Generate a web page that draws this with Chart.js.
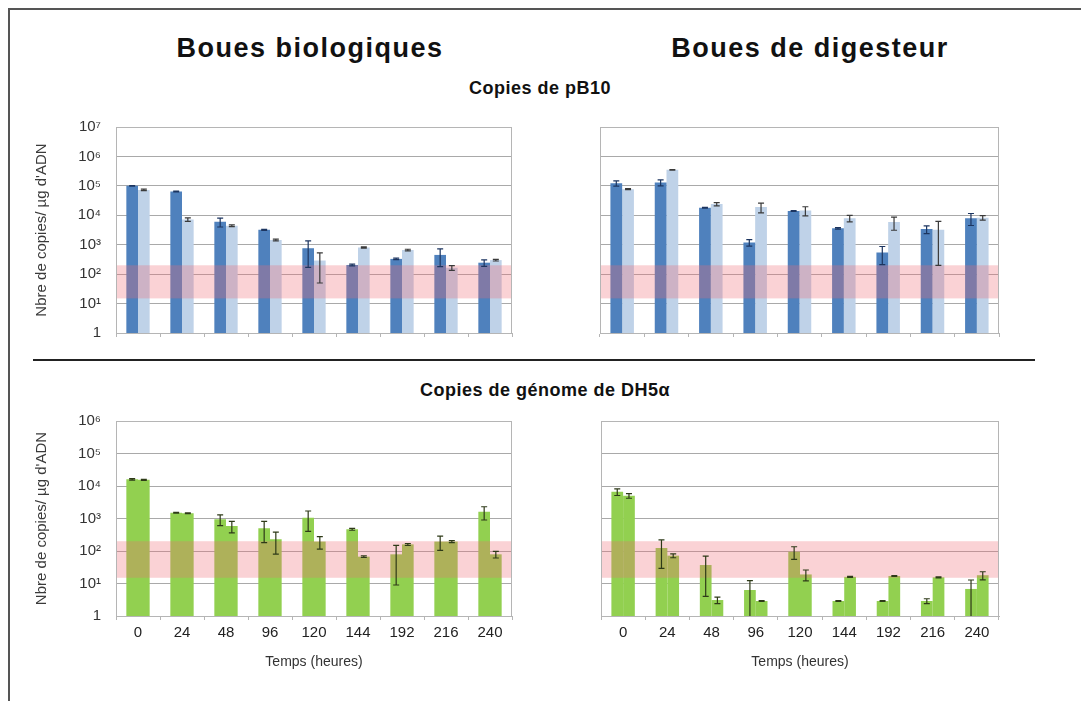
<!DOCTYPE html>
<html>
<head>
<meta charset="utf-8">
<script src="https://cdn.jsdelivr.net/npm/chart.js@4.4.0/dist/chart.umd.min.js"></script>
<style>
  body { margin: 0; background: #fff; width: 1081px; height: 701px; position: relative; overflow: hidden;
         font-family: "Liberation Sans", Arial, sans-serif; }
  .frame { position: absolute; left: 8px; top: 8px; width: 1100px; height: 720px; border: 2px solid #555; }
  .panel { position: absolute; }
  .title { position: absolute; font-weight: bold; color: #111; white-space: nowrap; transform: translate(-50%, -50%); }
  .big { font-size: 27px; letter-spacing: 1.5px; }
  .sub { font-size: 18px; letter-spacing: 0.5px; }
  .divider { position: absolute; left: 33px; top: 359px; width: 1002px; height: 2px; background: #222; }
</style>
</head>
<body>
<div class="frame"></div>
<div class="title big" style="left:310px; top:48px;">Boues biologiques</div>
<div class="title big" style="left:810px; top:48px;">Boues de digesteur</div>
<div class="title sub" style="left:540px; top:88px;">Copies de pB10</div>
<div class="divider"></div>
<div class="title sub" style="left:545px; top:390px;">Copies de génome de DH5α</div>

<canvas id="pb10Bio" class="panel" width="490" height="240" style="left:30px; top:110px;"></canvas>
<canvas id="pb10Dig" class="panel" width="420" height="240" style="left:590px; top:110px;"></canvas>
<canvas id="dh5Bio" class="panel" width="490" height="270" style="left:30px; top:405px;"></canvas>
<canvas id="dh5Dig" class="panel" width="420" height="270" style="left:590px; top:405px;"></canvas>

<script>
const hours = ['0', '24', '48', '96', '120', '144', '192', '216', '240'];

const topTickValues = [1, 10, 100, 1e3, 1e4, 1e5, 1e6, 1e7];
const topTickLabels = ['1', '10¹', '10²', '10³', '10⁴', '10⁵', '10⁶', '10⁷'];
const bottomTickValues = [1, 10, 100, 1e3, 1e4, 1e5, 1e6];
const bottomTickLabels = ['1', '10¹', '10²', '10³', '10⁴', '10⁵', '10⁶'];

// quantification limit band (copies / µg ADN)
const bandRange = [15, 200];

// pB10 copies, boues biologiques
const pb10BioA = [1.0e5, 6.4e4, 6.0e3, 3.2e3, 760, 205, 330, 450, 245];
const pb10BioAErr = [3e3, 2e3, 2e3, 150, 590, 15, 20, 270, 60];
const pb10BioB = [7.3e4, 7.2e3, 4.4e3, 1.45e3, 290, 800, 660, 165, 300];
const pb10BioBErr = [4e3, 1e3, 300, 100, 240, 40, 40, 30, 20];

// pB10 copies, boues de digesteur
const pb10DigA = [1.23e5, 1.3e5, 1.8e4, 1.2e3, 1.4e4, 3.6e3, 540, 3.4e3, 8e3];
const pb10DigAErr = [2.5e4, 3e4, 500, 300, 500, 200, 330, 1e3, 3.5e3];
const pb10DigB = [7.7e4, 3.5e5, 2.4e4, 1.9e4, 1.45e4, 8e3, 5.9e3, 3.2e3, 8.3e3];
const pb10DigBErr = [3e3, 1e4, 3e3, 7e3, 5e3, 2e3, 2.8e3, 3e3, 1.5e3];

// DH5alpha genome copies, boues biologiques
const dh5BioA = [1.6e4, 1.5e3, 950, 500, 1050, 465, 79, 195, 1600];
const dh5BioAErr = [800, 50, 350, 320, 650, 30, 70, 90, 700];
const dh5BioB = [1.55e4, 1.45e3, 590, 230, 195, 67, 160, 195, 79];
const dh5BioBErr = [600, 40, 230, 150, 80, 4, 10, 15, 18];

// DH5alpha genome copies, boues de digesteur
const dh5DigA = [6.6e3, 124, 37, 6.3, 95, 2.9, 2.9, 2.9, 6.8];
const dh5DigAErr = [1.5e3, 95, 33, 6, 40, 0.1, 0.1, 0.5, 6];
const dh5DigB = [5e3, 72, 3.1, 2.9, 19, 16, 17, 15.5, 18];
const dh5DigBErr = [800, 10, 0.7, 0.1, 7, 0.5, 0.5, 0.5, 5];

// band + error bars + plot frame, drawn over the bars
const overlay = {
  id: 'overlay',
  afterDatasetsDraw(chart) {
    const { ctx, chartArea: a, scales: { y } } = chart;
    ctx.save();
    ctx.beginPath();
    ctx.rect(a.left, a.top, a.right - a.left, a.bottom - a.top);
    ctx.clip();

    const yTop = y.getPixelForValue(bandRange[1]);
    const yBot = y.getPixelForValue(bandRange[0]);
    ctx.fillStyle = 'rgba(238, 105, 115, 0.3)';
    ctx.fillRect(a.left, yTop, a.right - a.left, yBot - yTop);

    chart.data.datasets.forEach((ds, i) => {
      const meta = chart.getDatasetMeta(i);
      ctx.strokeStyle = ds.errorColor;
      ctx.lineWidth = 1.2;
      meta.data.forEach((bar, j) => {
        const v = ds.data[j];
        const e = ds.errors[j];
        const hi = y.getPixelForValue(v + e);
        const lo = v - e > 1 ? y.getPixelForValue(v - e) : a.bottom;
        ctx.beginPath();
        ctx.moveTo(bar.x, hi);
        ctx.lineTo(bar.x, lo);
        ctx.moveTo(bar.x - 3, hi);
        ctx.lineTo(bar.x + 3, hi);
        if (v - e > 1) {
          ctx.moveTo(bar.x - 3, lo);
          ctx.lineTo(bar.x + 3, lo);
        }
        ctx.stroke();
      });
    });
    ctx.restore();

    ctx.save();
    ctx.strokeStyle = '#b5b5b5';
    ctx.lineWidth = 1;
    ctx.strokeRect(Math.round(a.left) + 0.5, Math.round(a.top) + 0.5,
                   Math.round(a.right - a.left) - 1, Math.round(a.bottom - a.top));
    ctx.restore();
  }
};

function makePanel(id, cfg) {
  const showY = cfg.showY;
  const showX = cfg.showX;
  new Chart(document.getElementById(id), {
    type: 'bar',
    data: {
      labels: hours,
      datasets: cfg.series.map(s => ({
        data: s.data,
        errors: s.errors,
        errorColor: s.errorColor,
        backgroundColor: s.color,
        borderWidth: 0,
        categoryPercentage: 0.53,
        barPercentage: 1
      }))
    },
    options: {
      responsive: false,
      animation: false,
      events: [],
      layout: { padding: cfg.padding },
      plugins: { legend: { display: false }, tooltip: { enabled: false } },
      scales: {
        x: {
          grid: { drawOnChartArea: false, drawTicks: true, tickLength: 4, color: '#b5b5b5' },
          border: { color: '#b5b5b5' },
          ticks: { display: showX, color: '#222', font: { size: 15 }, padding: 4 },
          title: {
            display: showX, text: 'Temps (heures)', color: '#333',
            font: { size: 14 }, padding: { top: 4, bottom: 4 }
          },
          afterFit(s) { s.height = cfg.xHeight; }
        },
        y: {
          type: 'logarithmic',
          min: 1,
          max: cfg.ticks[cfg.ticks.length - 1],
          afterBuildTicks(s) { s.ticks = cfg.ticks.map(v => ({ value: v })); },
          // invisible tick marks keep the labels off the plot without padding the top/bottom
          grid: { color: '#a9a9a9', drawTicks: true, tickLength: 12, tickColor: 'rgba(0,0,0,0)' },
          border: { display: false },
          ticks: {
            display: showY, color: '#333', font: { size: 15 }, padding: 3,
            callback: (v, i) => cfg.tickLabels[i]
          },
          title: {
            display: showY, text: "Nbre de copies/ µg d'ADN", color: '#3a3a3a',
            font: { size: 15 }, padding: { top: 3, bottom: 3 }
          },
          afterFit(s) { s.width = cfg.yWidth; }
        }
      }
    },
    plugins: [overlay]
  });
}

const blueDark = '#4f81bd';
const blueLight = '#bfd2e8';
const green = '#92d050';

makePanel('pb10Bio', {
  showY: true, showX: false, yWidth: 86, xHeight: 17,
  padding: { top: 17, right: 8, bottom: 0, left: 0 },
  ticks: topTickValues, tickLabels: topTickLabels,
  series: [
    { data: pb10BioA, errors: pb10BioAErr, color: blueDark, errorColor: '#1c3560' },
    { data: pb10BioB, errors: pb10BioBErr, color: blueLight, errorColor: '#3a3a3a' }
  ]
});

makePanel('pb10Dig', {
  showY: false, showX: false, yWidth: 10, xHeight: 17,
  padding: { top: 17, right: 11, bottom: 0, left: 0 },
  ticks: topTickValues, tickLabels: topTickLabels,
  series: [
    { data: pb10DigA, errors: pb10DigAErr, color: blueDark, errorColor: '#1c3560' },
    { data: pb10DigB, errors: pb10DigBErr, color: blueLight, errorColor: '#3a3a3a' }
  ]
});

makePanel('dh5Bio', {
  showY: true, showX: true, yWidth: 86, xHeight: 59,
  padding: { top: 16, right: 8, bottom: 0, left: 0 },
  ticks: bottomTickValues, tickLabels: bottomTickLabels,
  series: [
    { data: dh5BioA, errors: dh5BioAErr, color: green, errorColor: '#2e3a18' },
    { data: dh5BioB, errors: dh5BioBErr, color: green, errorColor: '#2e3a18' }
  ]
});

makePanel('dh5Dig', {
  showY: false, showX: true, yWidth: 11, xHeight: 59,
  padding: { top: 16, right: 11, bottom: 0, left: 0 },
  ticks: bottomTickValues, tickLabels: bottomTickLabels,
  series: [
    { data: dh5DigA, errors: dh5DigAErr, color: green, errorColor: '#2e3a18' },
    { data: dh5DigB, errors: dh5DigBErr, color: green, errorColor: '#2e3a18' }
  ]
});
</script>
</body>
</html>
